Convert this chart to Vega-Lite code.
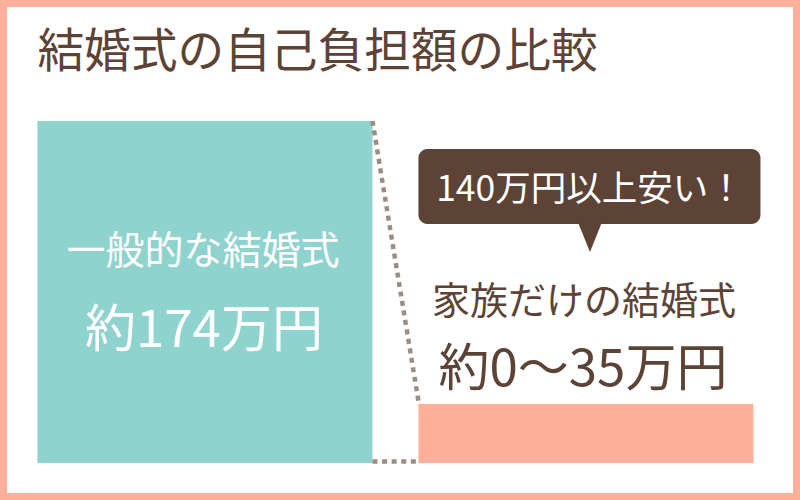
{
  "$schema": "https://vega.github.io/schema/vega-lite/v6.json",
  "width": 800,
  "height": 500,
  "autosize": {"type": "fit", "contains": "padding"},
  "padding": 0,
  "background": "#FFFFFF",
  "config": {
    "view": {"stroke": "#FFAF9A", "strokeWidth": 14},
    "axis": {"disable": true},
    "text": {"font": "Noto Sans CJK JP"}
  },
  "datasets": {
    "bars": [
      {"cat": "一般的な結婚式", "value": 174, "label": "約174万円"},
      {"cat": "家族だけの結婚式", "value": 30, "label": "約0～35万円"}
    ],
    "links": [
      {"from": "一般的な結婚式", "to": "家族だけの結婚式", "start": 174, "end": 31.5},
      {"from": "一般的な結婚式", "to": "家族だけの結婚式", "start": 0.8, "end": 0.8}
    ],
    "callout": [
      {"cat": "家族だけの結婚式", "text": "140万円以上安い！"}
    ],
    "title": [
      {"cat": "一般的な結婚式", "text": "結婚式の自己負担額の比較"}
    ]
  },
  "data": {"name": "bars"},
  "encoding": {},
  "layer": [
    {
      "mark": {"type": "bar", "cornerRadius": 0},
      "encoding": {
        "x": {
          "field": "cat", "type": "nominal", "axis": null, "sort": null,
          "scale": {"domain": ["一般的な結婚式", "家族だけの結婚式"], "paddingInner": 0.1207, "paddingOuter": 0.1102, "align": 0.4458}
        },
        "y": {
          "field": "value", "type": "quantitative", "axis": null,
          "scale": {"domain": [-18.83, 235.56], "nice": false, "zero": false}
        },
        "y2": {"datum": 0},
        "color": {
          "field": "cat", "type": "nominal", "legend": null,
          "scale": {"domain": ["一般的な結婚式", "家族だけの結婚式"], "range": ["#8FD3CF", "#FFAF9A"]}
        }
      }
    },
    {
      "data": {"name": "links"},
      "mark": {"type": "rule", "color": "#9C8D82", "strokeWidth": 4.5, "strokeDash": [5, 4.6], "strokeCap": "butt"},
      "encoding": {
        "x": {"field": "from", "type": "nominal", "bandPosition": 1},
        "x2": {"field": "to", "bandPosition": 0},
        "y": {"field": "start", "type": "quantitative"},
        "y2": {"field": "end"}
      }
    },
    {
      "data": {"name": "callout"},
      "mark": {"type": "rect", "color": "#5C4335", "cornerRadius": 9, "x2Offset": 7},
      "encoding": {
        "x": {"field": "cat", "type": "nominal", "bandPosition": 0},
        "x2": {"field": "cat", "bandPosition": 1},
        "y": {"datum": 159.75},
        "y2": {"datum": 121.6}
      }
    },
    {
      "data": {"name": "callout"},
      "mark": {"type": "point", "filled": true, "opacity": 1, "color": "#5C4335", "shape": "M-1,-1.24L1,-1.24L0,1.24Z", "size": 625, "xOffset": 4},
      "encoding": {
        "x": {"field": "cat", "type": "nominal", "bandPosition": 0.5},
        "y": {"datum": 115.2}
      }
    },
    {
      "data": {"name": "callout"},
      "mark": {"type": "text", "color": "#FFFFFF", "fontSize": 35.5, "align": "center", "baseline": "middle", "dx": 4},
      "encoding": {
        "x": {"field": "cat", "type": "nominal", "bandPosition": 0.5},
        "y": {"datum": 138.9},
        "text": {"field": "text"}
      }
    },
    {
      "data": {"name": "title"},
      "mark": {"type": "text", "color": "#5C4335", "fontSize": 46.7, "align": "left", "baseline": "middle"},
      "encoding": {
        "x": {"field": "cat", "type": "nominal", "bandPosition": 0},
        "y": {"datum": 208.6},
        "text": {"field": "text"}
      }
    },
    {
      "transform": [{"filter": "datum.cat === '一般的な結婚式'"}],
      "mark": {"type": "text", "color": "#FFFFFF", "fontSize": 39, "align": "center", "baseline": "middle", "dx": -2},
      "encoding": {
        "x": {"field": "cat", "type": "nominal", "bandPosition": 0.5},
        "y": {"datum": 107.1},
        "text": {"field": "cat"}
      }
    },
    {
      "transform": [{"filter": "datum.cat === '一般的な結婚式'"}],
      "mark": {"type": "text", "color": "#FFFFFF", "fontSize": 51, "align": "center", "baseline": "middle", "dx": -1},
      "encoding": {
        "x": {"field": "cat", "type": "nominal", "bandPosition": 0.5},
        "y": {"datum": 66.8},
        "text": {"field": "label"}
      }
    },
    {
      "transform": [{"filter": "datum.cat === '家族だけの結婚式'"}],
      "mark": {"type": "text", "color": "#5C4335", "fontSize": 38, "align": "center", "baseline": "middle", "dx": -2},
      "encoding": {
        "x": {"field": "cat", "type": "nominal", "bandPosition": 0.5},
        "y": {"datum": 81.5},
        "text": {"field": "cat"}
      }
    },
    {
      "transform": [{"filter": "datum.cat === '家族だけの結婚式'"}],
      "mark": {"type": "text", "color": "#5C4335", "fontSize": 51, "align": "center", "baseline": "middle", "dx": -3},
      "encoding": {
        "x": {"field": "cat", "type": "nominal", "bandPosition": 0.5},
        "y": {"datum": 47.0},
        "text": {"field": "label"}
      }
    }
  ]
}
